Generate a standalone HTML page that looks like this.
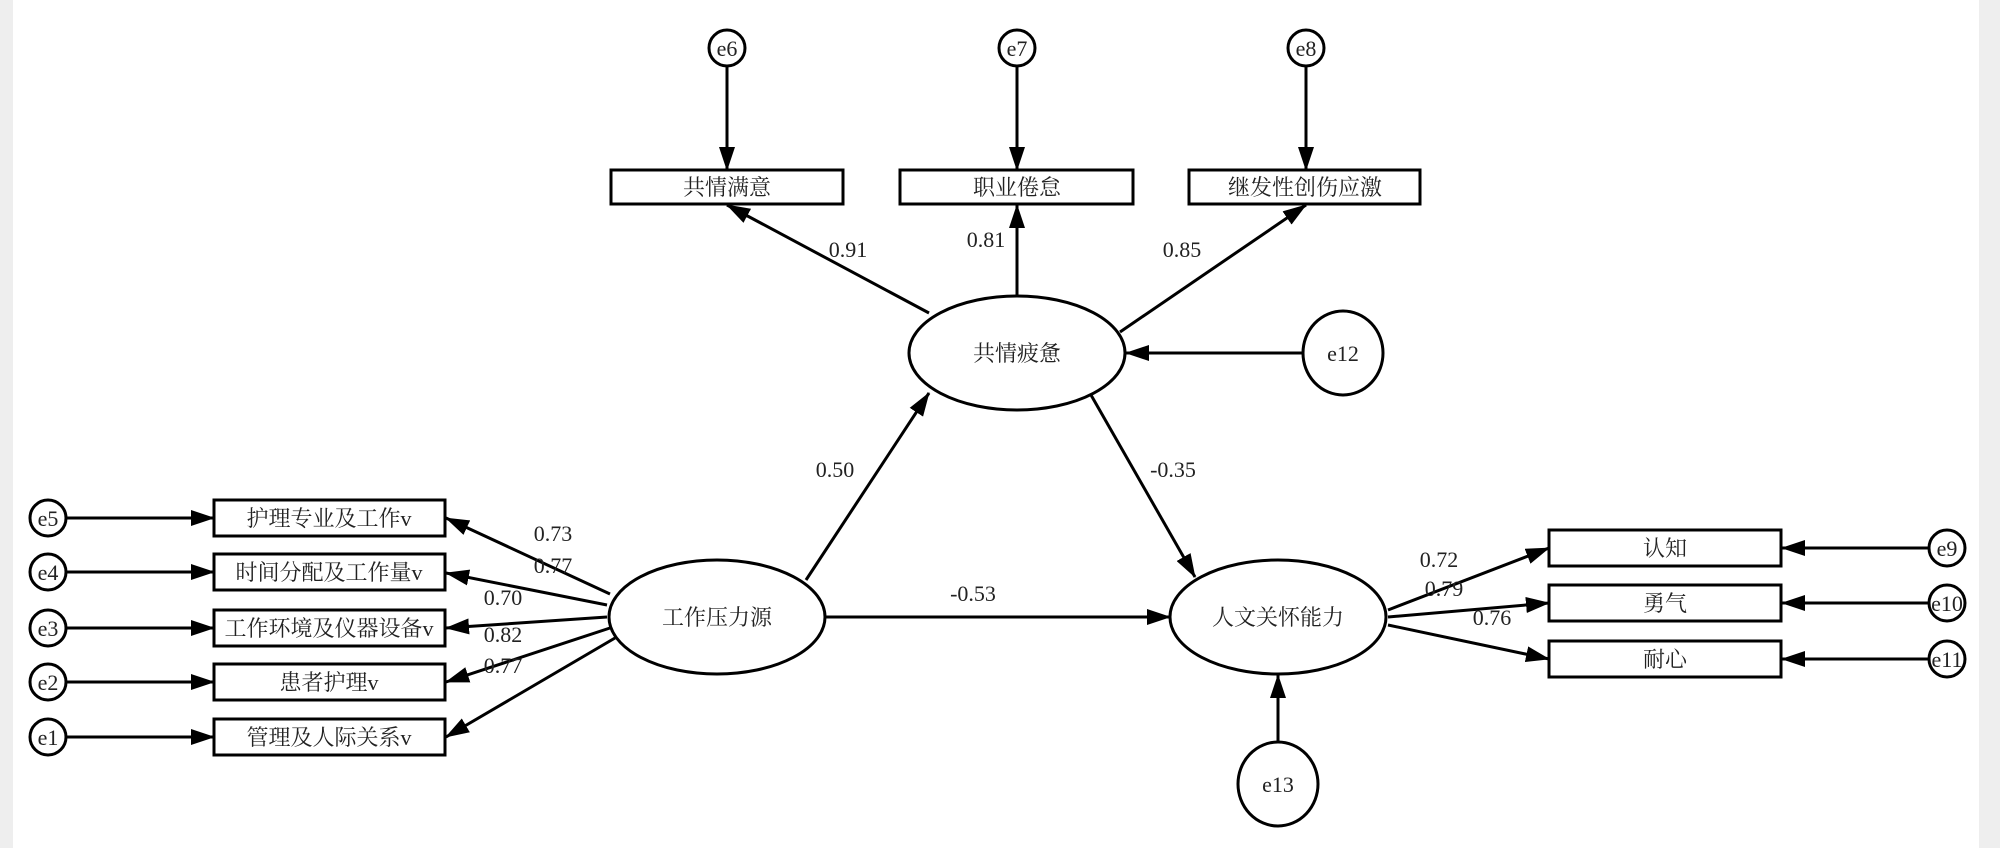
<!DOCTYPE html>
<html><head><meta charset="utf-8"><style>
html,body{margin:0;padding:0;background:#fff}
svg{display:block}
text{font-family:"Liberation Serif","Noto Serif CJK SC",serif;fill:#222}
</style></head><body>
<svg width="2000" height="848" viewBox="0 0 2000 848" xmlns="http://www.w3.org/2000/svg">
<defs>
<marker id="a" markerWidth="24" markerHeight="16" refX="23" refY="8" orient="auto" markerUnits="userSpaceOnUse">
<path d="M0,0 L24,8 L0,16 Z" fill="#000"/></marker>
</defs>
<rect x="0" y="0" width="13" height="848" fill="#eee"/>
<rect x="1979" y="0" width="21" height="848" fill="#eee"/>
<g stroke="#000" stroke-width="3" fill="#fff">
<!-- top e circles -->
<circle cx="727" cy="48" r="18"/><circle cx="1017" cy="48" r="18"/><circle cx="1306" cy="48" r="18"/>
<rect x="611" y="170" width="232" height="34"/><rect x="900" y="170" width="233" height="34"/><rect x="1189" y="170" width="231" height="34"/>
<ellipse cx="1017" cy="353" rx="108" ry="57"/>
<ellipse cx="1343" cy="353" rx="40" ry="42"/>
<ellipse cx="717" cy="617" rx="108" ry="57"/>
<ellipse cx="1278" cy="617" rx="108" ry="57"/>
<ellipse cx="1278" cy="784" rx="40" ry="42"/>
<rect x="214" y="500" width="231" height="36"/><rect x="214" y="554" width="231" height="36"/><rect x="214" y="610" width="231" height="36"/><rect x="214" y="664" width="231" height="36"/><rect x="214" y="719" width="231" height="36"/>
<circle cx="48" cy="518" r="18"/><circle cx="48" cy="572" r="18"/><circle cx="48" cy="628" r="18"/><circle cx="48" cy="682" r="18"/><circle cx="48" cy="737" r="18"/>
<rect x="1549" y="530" width="232" height="36"/><rect x="1549" y="585" width="232" height="36"/><rect x="1549" y="641" width="232" height="36"/>
<circle cx="1947" cy="548" r="18"/><circle cx="1947" cy="603" r="18"/><circle cx="1947" cy="659" r="18"/>
</g>
<g stroke="#000" stroke-width="3" fill="none" marker-end="url(#a)">
<line x1="727" y1="66" x2="727" y2="170"/><line x1="1017" y1="66" x2="1017" y2="170"/><line x1="1306" y1="66" x2="1306" y2="170"/>
<line x1="929" y1="313" x2="727" y2="205"/><line x1="1017" y1="296" x2="1017" y2="205"/><line x1="1120" y1="332" x2="1306" y2="205"/>
<line x1="1303" y1="353" x2="1126" y2="353"/>
<line x1="806" y1="580" x2="929" y2="393"/>
<line x1="1091" y1="395" x2="1195" y2="577"/>
<line x1="825" y1="617" x2="1170" y2="617"/>
<line x1="1278" y1="742" x2="1278" y2="675"/>
<line x1="610" y1="594" x2="446" y2="518"/><line x1="607" y1="605" x2="446" y2="573"/><line x1="607" y1="617" x2="446" y2="628"/><line x1="610" y1="628" x2="446" y2="682"/><line x1="615" y1="638" x2="446" y2="737"/>
<line x1="66" y1="518" x2="214" y2="518"/><line x1="66" y1="572" x2="214" y2="572"/><line x1="66" y1="628" x2="214" y2="628"/><line x1="66" y1="682" x2="214" y2="682"/><line x1="66" y1="737" x2="214" y2="737"/>
<line x1="1388" y1="610" x2="1549" y2="548"/><line x1="1388" y1="617" x2="1549" y2="603"/><line x1="1388" y1="625" x2="1549" y2="659"/>
<line x1="1929" y1="548" x2="1782" y2="548"/><line x1="1929" y1="603" x2="1782" y2="603"/><line x1="1929" y1="659" x2="1782" y2="659"/>
</g>
<g font-size="22" text-anchor="middle">
<text x="727" y="56">e6</text><text x="1017" y="56">e7</text><text x="1306" y="56">e8</text>
<text x="727" y="195">共情满意</text><text x="1017" y="195">职业倦怠</text><text x="1305" y="195">继发性创伤应激</text>
<text x="1017" y="361">共情疲惫</text><text x="1343" y="361">e12</text>
<text x="717" y="625">工作压力源</text><text x="1278" y="625">人文关怀能力</text><text x="1278" y="792">e13</text>
<text x="329" y="526">护理专业及工作v</text><text x="329" y="580">时间分配及工作量v</text><text x="329" y="636">工作环境及仪器设备v</text><text x="329" y="690">患者护理v</text><text x="329" y="745">管理及人际关系v</text>
<text x="48" y="526">e5</text><text x="48" y="580">e4</text><text x="48" y="636">e3</text><text x="48" y="690">e2</text><text x="48" y="745">e1</text>
<text x="1665" y="556">认知</text><text x="1665" y="611">勇气</text><text x="1665" y="667">耐心</text>
<text x="1947" y="556">e9</text><text x="1947" y="611">e10</text><text x="1947" y="667">e11</text>
<text x="848" y="257">0.91</text><text x="986" y="247">0.81</text><text x="1182" y="257">0.85</text>
<text x="835" y="477">0.50</text><text x="1173" y="477">-0.35</text><text x="973" y="601">-0.53</text>
<text x="553" y="541">0.73</text><text x="553" y="573">0.77</text><text x="503" y="605">0.70</text><text x="503" y="642">0.82</text><text x="503" y="673">0.77</text>
<text x="1439" y="567">0.72</text><text x="1444" y="596">0.79</text><text x="1492" y="625">0.76</text>
</g>
</svg>
</body></html>
